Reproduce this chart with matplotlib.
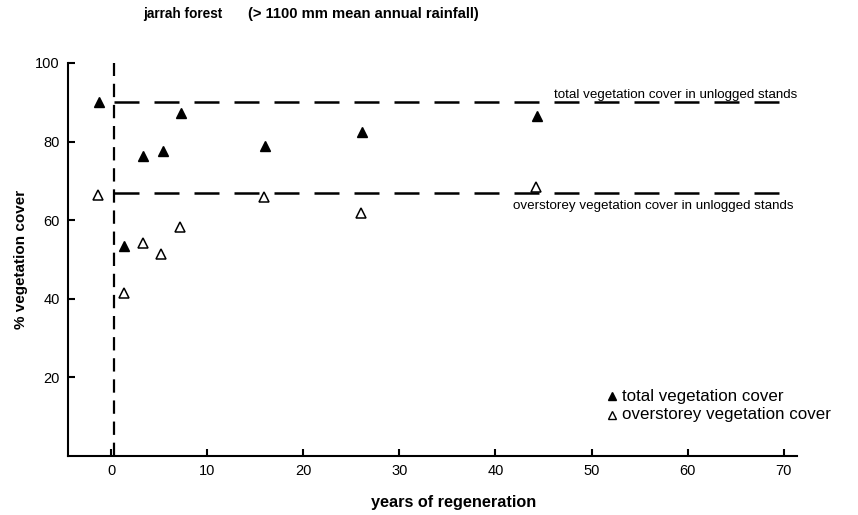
import matplotlib
matplotlib.use("Agg")
import matplotlib.pyplot as plt
from matplotlib.lines import Line2D

plt.rcParams['font.family'] = ['Liberation Sans', 'DejaVu Sans']

# years since logging and percent cover
total_years = [-1.3, 1.3, 3.3, 5.4, 7.3, 16.0, 26.1, 44.3]
total_cover = [90.0, 53.5, 76.4, 77.5, 87.2, 79.0, 82.4, 86.6]
over_years = [-1.4, 1.3, 3.3, 5.2, 7.2, 15.9, 26.0, 44.2]
over_cover = [66.5, 41.4, 54.3, 51.5, 58.3, 66.0, 61.8, 68.5]

# reference levels in unlogged stands
unlogged_total = 90.0
unlogged_over = 67.0
logging_year = 0.3

x_ticks = [0, 10, 20, 30, 40, 50, 60, 70]
y_ticks = [20, 40, 60, 80, 100]

fig = plt.figure(figsize=(8.58, 5.15), dpi=100)
ax = fig.add_axes([0.0793, 0.1146, 0.8497, 0.7631])

ax.set_xlim(-4.5, 71.4)
ax.set_ylim(0, 100)

# logging event and unlogged reference lines
ax.plot([logging_year, logging_year], [0, 100], color='black', lw=1.6,
        dashes=(6, 3.5))
ax.plot([logging_year, 70.6], [unlogged_total, unlogged_total], color='black',
        lw=1.8, dashes=(10, 6))
ax.plot([logging_year, 70.6], [unlogged_over, unlogged_over], color='black',
        lw=1.8, dashes=(10, 6))

ax.text(71.4, 91.9, 'total vegetation cover in unlogged stands',
        ha='right', va='center', fontsize=9.6)
ax.text(71.0, 63.7, 'overstorey vegetation cover in unlogged stands',
        ha='right', va='center', fontsize=9.6)

ax.plot(total_years, total_cover, linestyle='none', marker='^', ms=7,
        mfc='black', mec='black')
ax.plot(over_years, over_cover, linestyle='none', marker='^', ms=7,
        mfc='white', mec='black', mew=1.1)

for s in ['top', 'right']:
    ax.spines[s].set_visible(False)
for s in ['left', 'bottom']:
    ax.spines[s].set_linewidth(1.5)

ax.set_xticks(x_ticks)
ax.set_yticks(y_ticks)
ax.tick_params(direction='in', length=5, width=1.5, labelsize=10.5, pad=6)

ax.set_ylabel('% vegetation cover', fontsize=11, fontweight='bold', labelpad=5)
fig.text(454 / 858, 1 - 502 / 515, 'years of regeneration', fontsize=11.7,
         fontweight='bold', ha='center', va='center')

fig.text(143 / 858, 1 - 14 / 515, 'jarrah forest', fontsize=9.8,
         fontweight='bold', ha='left', va='center')
fig.text(248 / 858, 1 - 14 / 515, '(> 1100 mm mean annual rainfall)',
         fontsize=10.6, fontweight='bold', ha='left', va='center')

# key
key_rows = [
    ('total vegetation cover', 'black', 1 - 396 / 515),
    ('overstorey vegetation cover', 'white', 1 - 415 / 515),
]
for label, face, yf in key_rows:
    fig.add_artist(Line2D([612 / 858], [yf], linestyle='none', marker='^', ms=6,
                          mfc=face, mec='black', mew=1.0,
                          transform=fig.transFigure))
    fig.text(622 / 858, yf, label, fontsize=12.2, ha='left', va='center')

fig.savefig('out.png', dpi=100)
